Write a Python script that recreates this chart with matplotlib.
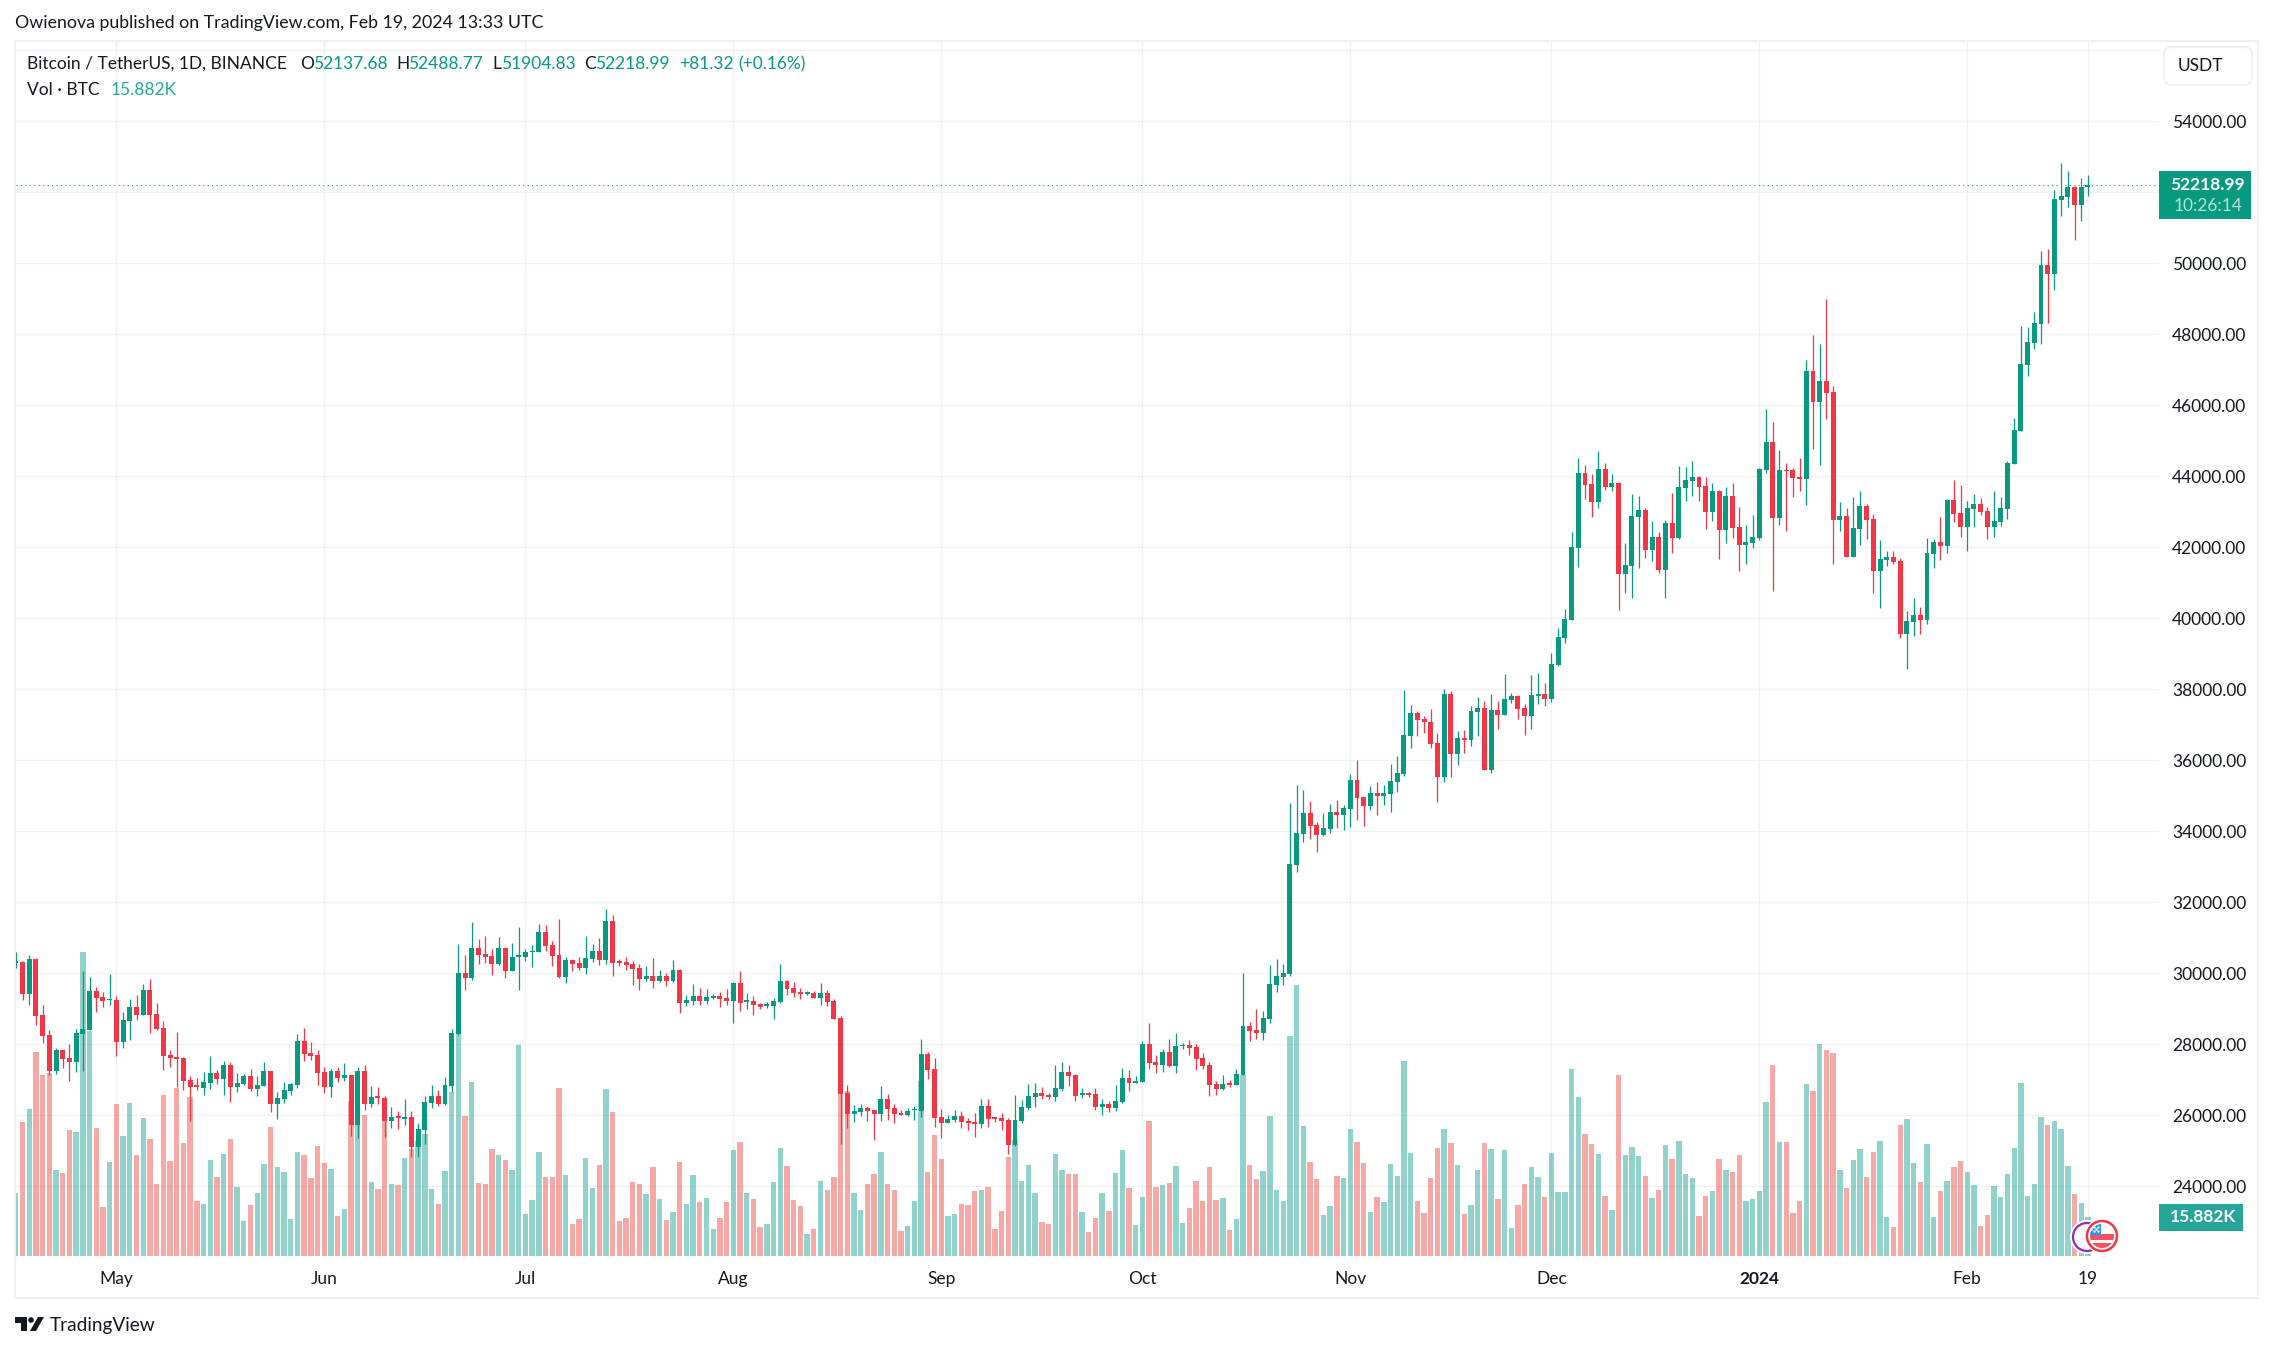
import numpy as np
import pandas as pd
import matplotlib
matplotlib.use("Agg")
import matplotlib.pyplot as plt
import matplotlib.dates as mdates
from matplotlib.patches import Rectangle, Circle, FancyBboxPatch, Polygon

opens = [
    30300,30329,29428,30414,28836,28272,27259,27850,27625,27512,
    28301,28414,29512,29343,29240,29259,28075,28667,29061,28836,
    29540,28864,28470,27709,27653,27625,27005,26836,26780,26920,
    27202,27033,27428,26808,26892,27118,26751,26836,27259,26329,
    26470,26695,26864,28104,27766,27709,27230,26808,27259,27061,
    27146,25737,27259,26329,26526,26498,25850,25963,25906,25963,
    25118,25596,26357,26554,26329,26836,28301,30019,29878,30723,
    30554,30498,30273,30723,30076,30470,30470,30592,30611,31174,
    30808,30526,29906,30385,30301,30160,30414,30639,30385,31484,
    30329,30329,30273,30160,29850,29935,29794,29935,29794,30104,
    29174,29230,29371,29230,29315,29371,29315,29230,29737,29202,
    29230,29146,29090,29090,29202,29794,29597,29484,29428,29456,
    29315,29456,29230,28752,26639,26047,26104,26216,26160,26047,
    26470,26216,26075,26019,26141,26132,27737,27315,25963,25794,
    25878,25991,25850,25822,25766,26272,25935,25935,25878,25174,
    25850,26216,26526,26639,26582,26526,26751,27230,27146,26582,
    26611,26611,26240,26326,26207,26380,27059,26918,26940,28018,
    27512,27425,27792,27393,27953,27985,27932,27620,27425,26886,
    26746,26897,26865,27145,28525,28406,28331,28719,29679,29905,
    29991,33063,33936,34519,34184,33904,34076,34551,34465,34637,
    35456,34971,34723,35090,35004,35058,35392,35618,36696,37343,
    37170,37084,36491,35543,37871,36168,36631,36577,37364,37483,
    35737,37429,37268,37690,37803,37465,37239,37803,37859,37718,
    38676,39446,39953,41981,44094,43784,43277,44207,43700,43812,
    41249,41474,42855,43052,41925,42291,41362,42685,42263,43671,
    43869,43981,43728,42995,43587,42488,43446,42573,42066,42122,
    42263,44178,44967,42826,44178,44178,43981,43925,46967,46094,
    46685,46375,42770,42883,41728,42516,43164,42798,41333,41643,
    41728,41615,39559,39897,40094,39953,41812,42150,42038,43333,
    42967,42573,43080,43221,43024,42573,42714,43080,44348,45277,
    47136,47755,48291,49953,49699,51784,51868,52150,51643,52137.68,
]
highs = [
    30592,30357,30526,30442,29118,28413,27906,27850,28019,28441,
    30076,29906,29625,29484,29991,29371,28921,29287,29399,29709,
    29850,29174,28667,27850,28357,27653,27118,27061,27230,27681,
    27287,27540,27512,27202,27174,27315,27118,27512,27259,26667,
    26949,26920,28301,28470,28075,27850,27371,27315,27371,27484,
    27146,27371,27428,26836,26808,26554,26244,26132,26470,26132,
    25794,26554,26864,26723,27089,28441,30836,30526,31456,30977,
    31061,30695,31033,30752,30864,31315,30695,30808,31400,31371,
    30921,31540,30470,30414,30470,31061,30836,31005,31822,31653,
    30414,30470,30357,30273,30216,30442,30104,30019,30385,30132,
    29399,29709,29597,29568,29428,29484,29568,29766,30076,29456,
    29371,29174,29202,29315,30273,29800,29766,29597,29512,29512,
    29737,29540,29287,28808,26864,26301,26329,26272,26160,26836,
    26611,26329,26160,26216,26272,28160,27794,27625,26188,26019,
    26160,26132,25935,26075,26470,26470,25963,26075,25935,26582,
    26442,26892,26920,26808,26639,27428,27512,27428,27174,26780,
    26667,26780,26466,26412,26865,27339,27285,27113,28105,28611,
    27706,27878,28158,28320,28029,28126,28018,27759,27512,26973,
    27145,27005,27296,30013,28622,28999,28945,30239,30411,30271,
    34788,35316,35176,34863,34271,34519,34777,34885,34745,35618,
    36017,34971,35284,35392,35316,35898,36125,37990,37569,37397,
    37257,37451,36772,38011,37957,36836,36858,37537,37796,37677,
    37871,37677,38423,37887,37831,37577,38394,38451,38169,39014,
    39718,40263,42432,44517,44319,44066,44714,44376,44066,43840,
    42122,43502,43446,43108,42742,42432,42770,43531,44291,44263,
    44432,44010,43981,43812,43615,43700,43812,43136,42629,42911,
    44240,45897,45531,44742,44376,44235,44517,47277,47981,47728,
    48995,46545,43277,43108,43418,43587,43221,42939,42207,41897,
    41897,41700,40207,40573,40319,42263,42235,42855,43361,43897,
    43756,43305,43503,43390,43136,43587,43418,44432,45643,48234,
    48206,48629,50347,50403,52065,52826,52601,52178,52404,52488.77,
]
lows = [
    30160,29259,29118,28554,28047,27146,27174,27343,26977,27230,
    27259,28414,28921,29061,29118,27681,27906,28132,28695,28836,
    28329,28414,27287,27371,26808,26723,25850,26723,26582,26751,
    26892,26582,26385,26667,26864,26695,26554,26836,26104,25906,
    26357,26582,26780,27540,27568,26864,26639,26526,26949,26977,
    25427,25371,26160,26244,26329,25399,25653,25625,25737,24836,
    24836,25202,26216,26272,26301,26667,28272,29540,29822,30273,
    30301,29963,30245,29878,30076,29540,30357,30188,30611,30639,
    30216,29878,29737,30076,30104,29991,30329,30245,30273,29935,
    30216,30104,29681,29540,29794,29597,29766,29653,29766,28892,
    29090,29118,29118,29146,29287,29061,29118,28611,28949,29005,
    28836,29005,29033,28723,29174,29399,29343,29287,29399,29315,
    29118,29090,28723,25202,25653,25822,25991,25850,25315,25850,
    25878,25794,26019,25991,25878,25963,27033,25681,25371,25794,
    25822,25653,25596,25399,25653,25681,25822,25596,24920,25146,
    25794,26160,26244,26470,26470,26414,26695,26836,26414,26498,
    26526,26160,26013,26089,26132,26358,26692,26918,26940,27307,
    27188,27231,27372,27199,27878,27706,27285,27307,26552,26574,
    26725,26800,26843,27145,28105,28158,28126,28611,29484,29679,
    29915,32858,33710,33786,33430,33872,33958,34087,34044,34130,
    34324,34152,34605,34465,34745,34551,35111,35564,36351,36696,
    36761,36351,34831,35392,35543,35877,36211,36416,36696,35737,
    35650,36890,37268,37606,37155,36718,36890,37577,37521,37634,
    38648,39305,39953,41446,43362,42855,43108,43615,43587,40235,
    40714,40573,41418,41700,41615,41277,40573,41840,42235,43305,
    43446,43305,42516,42742,41671,42122,42263,41333,41531,41981,
    42207,44100,40770,42629,42460,43418,43587,43193,44770,44319,
    45615,41531,42460,41728,41728,42066,42235,40714,40291,41474,
    41530,39446,38573,39502,39559,39840,41418,41643,41840,42714,
    42291,41897,42573,42911,42235,42291,42601,42798,44348,45277,
    46826,47587,47728,48319,49248,51333,51587,50657,51192,51904.83,
]
closes = [
    30329,29428,30414,28808,28244,27259,27850,27597,27512,28329,
    28441,29512,29315,29230,29259,28075,28695,29061,28836,29540,
    28836,28441,27681,27625,27597,26977,26808,26808,26949,27202,
    27033,27428,26808,26920,27118,26751,26864,27259,26329,26498,
    26723,26892,28104,27737,27681,27202,26808,27259,27061,27146,
    25737,27259,26329,26526,26498,25850,25963,25935,25963,25118,
    25625,26385,26554,26329,26864,28329,30019,29878,30723,30526,
    30470,30273,30723,30076,30470,30489,30611,30630,31174,30780,
    30498,29906,30385,30273,30160,30442,30639,30385,31484,30301,
    30301,30245,30132,29850,29935,29794,29935,29794,30104,29174,
    29259,29371,29230,29343,29371,29287,29230,29737,29174,29230,
    29118,29061,29108,29230,29794,29568,29456,29428,29456,29315,
    29456,29202,28723,26611,26047,26132,26216,26132,26047,26470,
    26188,26047,26019,26132,26160,27737,27287,25935,25794,25906,
    25991,25822,25794,25766,26272,25906,25906,25850,25174,25878,
    26244,26554,26639,26554,26526,26780,27230,27118,26554,26611,
    26582,26244,26326,26207,26412,27059,26918,26973,28018,27479,
    27425,27792,27393,27953,27974,27900,27598,27393,26865,26746,
    26886,26865,27167,28525,28385,28331,28751,29711,29926,30013,
    33085,33958,34519,34152,33904,34098,34551,34465,34659,35456,
    34950,34723,35090,35004,35090,35424,35650,36718,37343,37138,
    37073,36470,35543,37871,36168,36631,36577,37397,37483,35737,
    37429,37289,37718,37803,37437,37239,37831,37859,37718,38704,
    39465,39981,42009,44094,43756,43277,44207,43700,43812,41249,
    41502,42883,43052,41925,42291,41362,42685,42263,43700,43897,
    43981,43700,42995,43587,42488,43446,42545,42066,42150,42291,
    44207,44967,42826,44178,44150,43953,43925,46967,46094,46685,
    46347,42770,42883,41728,42545,43164,42770,41333,41671,41728,
    41587,39559,39925,40094,39953,41840,42150,42038,43333,42939,
    42573,43108,43221,42995,42573,42742,43108,44376,45305,47164,
    47784,48319,49953,49699,51812,51896,52150,51643,52150,52218.99,
]
# BTC volume in thousands
volumes = [
    25.6,54.6,59.8,83.0,73.7,74.5,35.0,33.8,51.3,50.5,
    123.8,91.6,52.1,19.9,38.3,61.9,48.9,62.3,41.1,56.2,
    47.6,29.3,65.5,38.7,68.4,46.0,64.7,22.4,21.2,39.1,
    32.2,41.5,47.6,28.1,14.2,20.8,25.6,37.5,52.5,36.2,
    34.2,15.1,42.3,41.1,31.8,44.8,37.9,35.4,16.3,19.1,
    63.1,55.4,57.4,30.1,27.3,62.3,29.3,28.9,39.9,43.6,
    46.8,49.7,27.3,21.2,34.6,66.8,104.2,57.0,70.8,29.7,
    29.3,43.6,41.1,39.1,35.0,85.9,17.1,22.8,42.3,32.2,
    32.2,68.4,33.0,13.0,15.1,39.9,27.7,37.0,68.0,58.6,
    14.2,15.5,30.1,29.3,25.2,36.2,23.2,14.7,17.9,38.3,
    21.2,33.0,22.0,23.6,11.0,15.5,22.0,43.2,46.4,25.6,
    23.2,11.8,13.0,30.1,44.0,36.6,22.8,20.4,9.0,11.0,
    30.5,26.9,32.2,66.0,67.2,25.6,18.7,29.3,33.4,42.3,
    29.3,26.9,10.2,12.2,22.4,71.2,34.2,49.3,39.5,16.3,
    17.1,21.2,20.8,26.5,26.9,28.1,11.0,18.3,40.3,47.2,
    30.5,37.0,25.6,13.8,13.0,41.5,35.0,33.4,33.4,17.9,
    9.8,15.5,25.6,18.2,33.8,43.2,27.6,12.6,24.0,55.0,
    28.0,28.8,29.6,36.6,13.4,19.5,30.5,22.3,36.1,22.7,
    23.5,10.6,15.0,73.7,37.1,31.3,34.6,57.0,26.8,22.3,
    89.6,110.3,52.8,38.2,31.3,16.7,20.3,32.6,31.8,51.7,
    46.4,37.9,17.9,24.0,22.0,37.4,32.6,79.3,41.9,22.3,
    17.4,31.8,43.9,51.7,46.0,37.1,17.0,20.7,34.9,46.0,
    43.5,23.2,43.2,11.4,20.7,29.3,36.1,32.1,24.0,41.9,
    26.0,26.0,76.0,64.7,49.7,45.5,41.4,24.5,18.7,73.7,
    41.1,44.4,40.7,32.6,23.6,26.9,45.2,39.5,46.8,33.4,
    31.8,16.3,24.4,26.5,39.5,35.0,34.2,41.1,22.4,23.2,
    26.5,62.7,77.8,46.4,46.4,17.5,22.4,70.0,67.2,86.3,
    83.9,82.6,35.0,27.7,39.1,43.6,32.2,42.3,46.8,15.9,
    11.8,53.3,55.8,37.9,30.1,45.6,15.9,26.5,30.5,36.2,
    38.7,34.2,28.9,12.2,16.7,28.5,24.0,33.4,44.0,70.4,
    24.4,29.3,56.6,53.3,55.0,51.7,36.6,25.2,21.6,15.882,
]
start_date = "2023-04-16"
price_ticks = list(range(24000, 58000, 2000))
# 52000 sits behind the last price box, 56000 has no label
price_labels = ["" if p in (52000, 56000) else f"{p}.00" for p in price_ticks]
date_ticks = ["2023-05-01", "2023-06-01", "2023-07-01", "2023-08-01", "2023-09-01",
              "2023-10-01", "2023-11-01", "2023-12-01", "2024-01-01", "2024-02-01", "2024-02-19"]
date_labels = ["May", "Jun", "Jul", "Aug", "Sep", "Oct", "Nov", "Dec", "2024", "Feb", "19"]

GREEN = "#089981"
RED = "#F23645"
VOL_GREEN = "#26a69a"
VOL_RED = "#ef5350"
GRID = "#F1F1F4"
TEXT = "#131722"

W, H = 2273, 1351
plt.rcParams["font.family"] = ["Lato", "DejaVu Sans"]
fig = plt.figure(figsize=(W / 100, H / 100), dpi=100, facecolor="white")

# pane in pixels
left, right, top, bottom = 16, 2159, 42, 1256
rect = [left / W, 1 - bottom / H, (right - left) / W, (bottom - top) / H]

o = np.array(opens)
h = np.array(highs)
l = np.array(lows)
c = np.array(closes)
v = np.array(volumes)
dates = mdates.date2num(pd.date_range(start_date, periods=len(o)))
up = c >= o

# px per day and price scale taken from the chart's gridlines
px_day = 6.706
xlim = (dates[0] + (left - 15.8) / px_day, dates[0] + (right - 15.8) / px_day)
px_price = 71 / 2000
ylim = (24000 - (bottom - 1186.3) / px_price, 24000 + (1186.3 - top) / px_price)
vol_ylim = (0, (bottom - top) * 0.407)

base = fig.add_axes(rect, facecolor="white", zorder=1)
base.set_xlim(xlim)
base.set_ylim(ylim)
base.set_xticks(mdates.date2num(pd.to_datetime(date_ticks)))
base.set_xticklabels(date_labels, fontsize=12.5, color=TEXT)
base.set_yticks(price_ticks)
base.set_yticklabels(price_labels, fontsize=12.5, color=TEXT)
base.yaxis.tick_right()
base.tick_params(axis="x", length=0, pad=10.5)
base.tick_params(axis="y", length=0, pad=9.5)
base.grid(True, color=GRID, linewidth=0.9)
base.set_axisbelow(True)
for s in base.spines.values():
    s.set_visible(False)
base.get_xticklabels()[8].set_fontweight("bold")

vol = fig.add_axes(rect, facecolor="none", zorder=2)
vol.set_xlim(xlim)
vol.set_ylim(vol_ylim)
vol.axis("off")
vol.bar(dates[up], v[up], width=0.8, color=VOL_GREEN, alpha=0.5, linewidth=0)
vol.bar(dates[~up], v[~up], width=0.8, color=VOL_RED, alpha=0.5, linewidth=0)

price = fig.add_axes(rect, facecolor="none", zorder=3)
price.set_xlim(xlim)
price.set_ylim(ylim)
price.axis("off")
colors = np.where(up, GREEN, RED)
price.vlines(dates, l, h, color=colors, linewidth=0.9)
body_low = np.minimum(o, c)
body_h = np.maximum(np.abs(c - o), 40)
price.bar(dates, body_h, bottom=body_low, width=0.74, color=colors, linewidth=0)
price.axhline(closes[-1], color=GREEN, linewidth=0.8, linestyle=(0, (1, 3)))

# everything around the pane, in pixel coordinates
ui = fig.add_axes([0, 0, 1, 1], facecolor="none", zorder=4)
ui.set_xlim(0, W)
ui.set_ylim(H, 0)
ui.axis("off")

ui.add_patch(Rectangle((15, 41), 2243, 1257, fill=False, edgecolor=GRID, linewidth=1.5))

ui.text(15, 23, "Owienova published on TradingView.com, Feb 19, 2024 13:33 UTC",
        fontsize=12.8, color=TEXT, va="center")
ui.text(27, 64, "Bitcoin / TetherUS, 1D, BINANCE", fontsize=12.5, color=TEXT, va="center")
legend = [(300, "O", TEXT), (313, "52137.68", GREEN), (396, "H", TEXT), (408, "52488.77", GREEN),
          (492, "L", TEXT), (501, "51904.83", GREEN), (584, "C", TEXT), (595, "52218.99", GREEN),
          (679, "+81.32", GREEN), (738, "(+0.16%)", GREEN)]
for x, s, col in legend:
    ui.text(x, 64, s, fontsize=12.5, color=col, va="center")
ui.text(27, 90, "Vol · BTC", fontsize=12.5, color=TEXT, va="center")
ui.text(111, 90, "15.882K", fontsize=12.5, color=VOL_GREEN, va="center")

# USDT button
ui.add_patch(FancyBboxPatch((2164, 47), 88, 38, boxstyle="round,pad=0,rounding_size=8",
                            facecolor="white", edgecolor=GRID, linewidth=1.5))
ui.text(2200, 66, "USDT", fontsize=12.5, color=TEXT, ha="center", va="center")

# last price and volume labels
ui.add_patch(Rectangle((2159, 171), 92, 48, facecolor=GREEN, edgecolor="none"))
ui.text(2208, 185, "52218.99", fontsize=12.5, color="white", ha="center", va="center", fontweight="bold")
ui.text(2208, 206, "10:26:14", fontsize=12.5, color="#B5E0D8", ha="center", va="center")
ui.add_patch(Rectangle((2159, 1204), 84, 27, facecolor=VOL_GREEN, edgecolor="none"))
ui.text(2203, 1217.5, "15.882K", fontsize=12.5, color="white", ha="center", va="center", fontweight="bold")

# event badges at the last bar
ui.add_patch(Circle((2087, 1237), 17, facecolor="white", edgecolor="none"))
ui.add_patch(Circle((2087, 1237), 14, facecolor="white", edgecolor="#9C27B0", linewidth=1.6))
ui.add_patch(Circle((2102, 1236), 17.5, facecolor="white", edgecolor="none"))
ring = Circle((2102, 1236), 15, facecolor="white", edgecolor="#F23645", linewidth=1.8)
ui.add_patch(ring)
flag_clip = Circle((2102, 1236), 12, transform=ui.transData)
stripes = [Rectangle((2088, 1234), 28, 5.5, facecolor="#F7525F", edgecolor="none"),
           Rectangle((2088, 1243), 28, 8, facecolor="#F7525F", edgecolor="none"),
           Rectangle((2088, 1224), 13, 11, facecolor="#2196F3", edgecolor="none")]
for s in stripes:
    ui.add_patch(s)
    s.set_clip_path(flag_clip)
ui.scatter([2094, 2098, 2094, 2098, 2091, 2096], [1227, 1227, 1231, 1231, 1229, 1229], s=3, color="white", linewidth=0)

# TradingView logo
ui.add_patch(Polygon([(15, 1317), (27, 1317), (27, 1331), (21, 1331), (21, 1323), (15, 1323)], facecolor=TEXT))
ui.add_patch(Circle((31, 1320), 2.8, facecolor=TEXT))
ui.add_patch(Polygon([(38, 1317), (44, 1317), (36, 1331), (30, 1331)], facecolor=TEXT))
ui.text(50, 1325, "TradingView", fontsize=13.7, color=TEXT, va="center")

fig.savefig("out.png", dpi=100)
